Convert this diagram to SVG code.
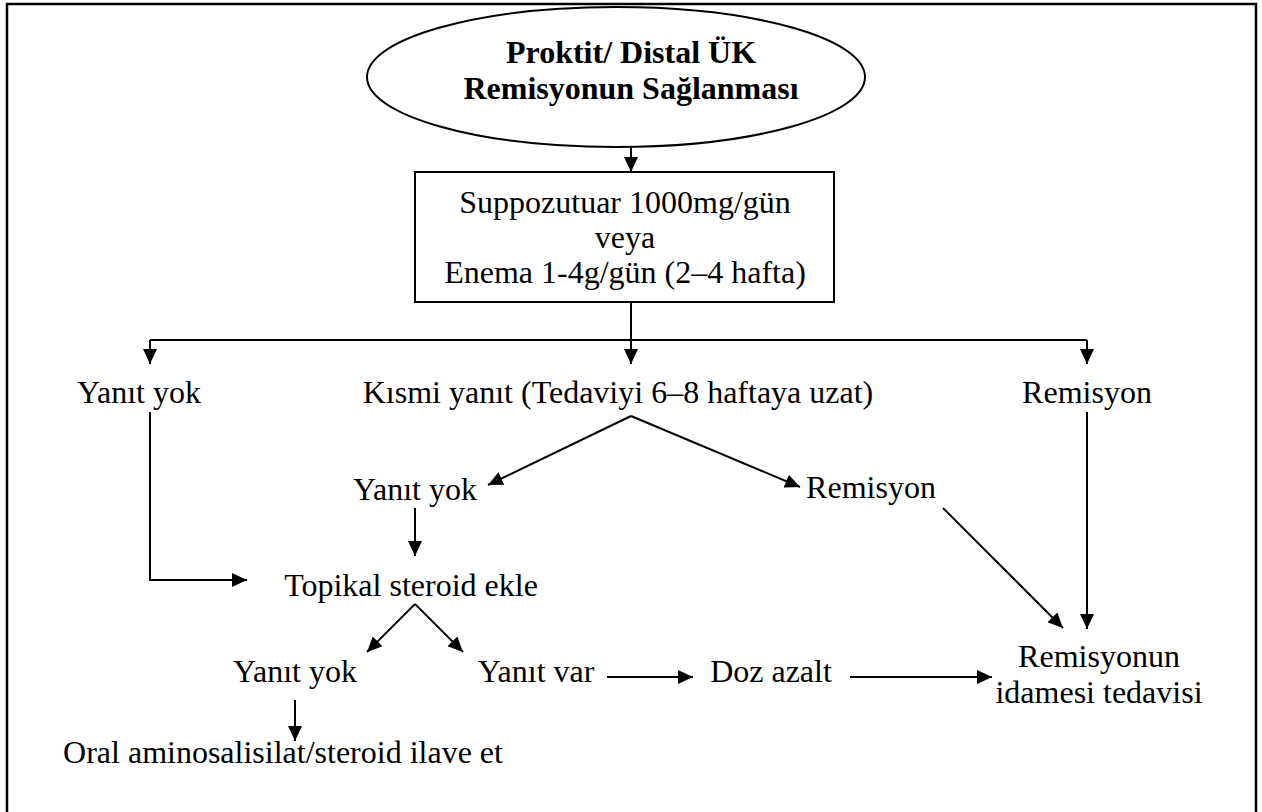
<svg xmlns="http://www.w3.org/2000/svg" width="1262" height="812" viewBox="0 0 1262 812">
  <style>
    .t { font-family: "Liberation Serif", "Times New Roman", serif; font-size: 32px; fill: #000; text-anchor: middle; }
    .b { font-weight: bold; }
    .ln { fill: none; stroke: #000; stroke-width: 2; }
    .arr { marker-end: url(#head); }
  </style>
  <defs>
    <marker id="head" markerUnits="userSpaceOnUse" markerWidth="16" markerHeight="14" refX="15" refY="7" orient="auto">
      <path d="M0,0 L15,7 L0,14 z" fill="#000"/>
    </marker>
  </defs>
  <rect width="1262" height="812" fill="#fff"/>
  <!-- page frame -->
  <rect x="7" y="4" width="1249" height="820" fill="none" stroke="#000" stroke-width="2.5"/>

  <g id="start">
    <ellipse cx="616" cy="77" rx="249" ry="70" fill="#fff" stroke="#000" stroke-width="2"/>
    <text class="t b" x="631" y="63">Proktit/ Distal ÜK</text>
    <text class="t b" x="631" y="99">Remisyonun Sağlanması</text>
  </g>
  <g id="initial-therapy">
    <rect x="415" y="172" width="419" height="130" fill="#fff" stroke="#000" stroke-width="2"/>
    <text class="t" x="625" y="213">Suppozutuar 1000mg/gün</text>
    <text class="t" x="625" y="248">veya</text>
    <text class="t" x="625" y="283">Enema 1-4g/gün (2–4 hafta)</text>
  </g>
  <g id="no-response-1"><text class="t" x="139" y="403">Yanıt yok</text></g>
  <g id="partial-response"><text class="t" x="618" y="403">Kısmi yanıt (Tedaviyi 6–8 haftaya uzat)</text></g>
  <g id="remission-1"><text class="t" x="1087" y="403">Remisyon</text></g>
  <g id="no-response-2"><text class="t" x="415" y="500">Yanıt yok</text></g>
  <g id="remission-2"><text class="t" x="871" y="498">Remisyon</text></g>
  <g id="topical-steroid"><text class="t" x="411" y="596">Topikal steroid ekle</text></g>
  <g id="no-response-3"><text class="t" x="295" y="682">Yanıt yok</text></g>
  <g id="response"><text class="t" x="536" y="682">Yanıt var</text></g>
  <g id="dose-reduce"><text class="t" x="771" y="682">Doz azalt</text></g>
  <g id="maintenance">
    <text class="t" x="1099" y="667">Remisyonun</text>
    <text class="t" x="1099" y="703">idamesi tedavisi</text>
  </g>
  <g id="oral"><text class="t" x="283" y="763">Oral aminosalisilat/steroid ilave et</text></g>

  <g id="connectors">
    <path class="ln arr" d="M631,147 V172"/>
    <path class="ln arr" d="M631,302 V364"/>
    <path class="ln" d="M150,340 H1087"/>
    <path class="ln arr" d="M150,340 V364"/>
    <path class="ln arr" d="M1087,340 V364"/>
    <path class="ln arr" d="M631,416 L488,485"/>
    <path class="ln arr" d="M631,416 L800,487"/>
    <path class="ln arr" d="M150,412 V580 H247"/>
    <path class="ln arr" d="M415,508 V556"/>
    <path class="ln arr" d="M415,604 L367,652"/>
    <path class="ln arr" d="M415,604 L463,652"/>
    <path class="ln arr" d="M295,700 V741"/>
    <path class="ln arr" d="M607,677 H693"/>
    <path class="ln arr" d="M850,677 H992"/>
    <path class="ln arr" d="M943,508 L1063,628"/>
    <path class="ln arr" d="M1087,412 V629"/>
  </g>
</svg>
